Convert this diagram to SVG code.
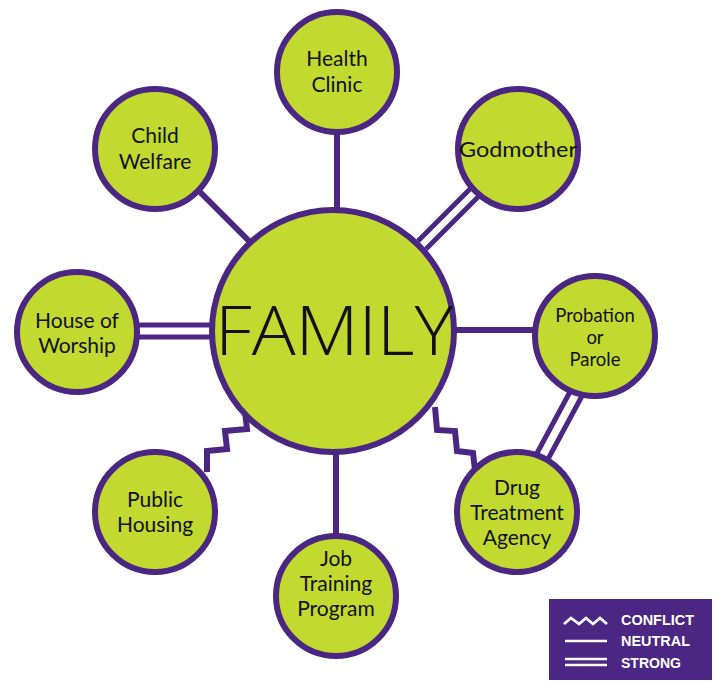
<svg xmlns="http://www.w3.org/2000/svg" width="715" height="681" viewBox="0 0 715 681">
<style>
.node circle{fill:#c2d92f;stroke:#4b2683;stroke-width:6}
.lbl{font-family:Lato,"Open Sans","Liberation Sans",sans-serif;font-size:21px;fill:#111;text-anchor:middle}
.sm{font-size:18.5px}
.big{font-family:"Open Sans","Liberation Sans",sans-serif;font-weight:300;font-size:68px;fill:#111;text-anchor:middle}
.ln{stroke:#4b2683;stroke-width:6;fill:none}
.ln2{stroke:#4b2683;stroke-width:5;fill:none}
.lg{font-family:"Liberation Sans","DejaVu Sans",sans-serif;font-weight:bold;font-size:14px;fill:#fff}
.lgl{stroke:#fff;stroke-width:2.7;fill:none}
</style>
<rect width="715" height="681" fill="#fff"/>
<g id="connectors">
<line class="ln" x1="337" y1="130" x2="337" y2="212"/>
<line class="ln" x1="198" y1="190" x2="250" y2="242"/>
<line class="ln2" x1="418" y1="241" x2="471" y2="188"/>
<line class="ln2" x1="426" y1="249" x2="479" y2="196"/>
<line class="ln2" x1="136" y1="325" x2="214" y2="325"/>
<line class="ln2" x1="136" y1="337" x2="214" y2="337"/>
<line class="ln" x1="452" y1="330" x2="537" y2="330"/>
<line class="ln2" x1="571" y1="390" x2="536" y2="455"/>
<line class="ln2" x1="582" y1="396" x2="547" y2="461"/>
<polyline class="ln" points="245,412 247,429 225,431 227,449 207,451 207,472"/>
<polyline class="ln" points="435,407 437,430 455,431 457,451 473,453 475,470"/>
<line class="ln" x1="336" y1="450" x2="336" y2="537"/>
</g>
<g id="family" class="node"><circle cx="333" cy="331" r="121"/><text class="big" x="334" y="355" textLength="238" lengthAdjust="spacingAndGlyphs">FAMILY</text></g>
<g id="health" class="node"><circle cx="337" cy="72" r="60"/><text class="lbl" x="337" y="66">Health</text><text class="lbl" x="337" y="92">Clinic</text></g>
<g id="godmother" class="node"><circle cx="518" cy="149" r="60"/><text class="lbl" x="518" y="157" textLength="118" lengthAdjust="spacingAndGlyphs">Godmother</text></g>
<g id="child" class="node"><circle cx="155" cy="149" r="60"/><text class="lbl" x="155" y="143">Child</text><text class="lbl" x="155" y="169">Welfare</text></g>
<g id="worship" class="node"><circle cx="77" cy="332" r="60"/><text class="lbl" x="77" y="328">House of</text><text class="lbl" x="77" y="353">Worship</text></g>
<g id="probation" class="node"><circle cx="595" cy="336" r="60"/><text class="lbl sm" x="595" y="322">Probation</text><text class="lbl sm" x="595" y="344">or</text><text class="lbl sm" x="595" y="366">Parole</text></g>
<g id="housing" class="node"><circle cx="155" cy="512" r="60"/><text class="lbl" x="155" y="507">Public</text><text class="lbl" x="155" y="532">Housing</text></g>
<g id="job" class="node"><circle cx="336" cy="596" r="60"/><text class="lbl" x="336" y="566">Job</text><text class="lbl" x="336" y="591">Training</text><text class="lbl" x="336" y="616">Program</text></g>
<g id="drug" class="node"><circle cx="517" cy="512" r="60"/><text class="lbl" x="517" y="495">Drug</text><text class="lbl" x="517" y="520">Treatment</text><text class="lbl" x="517" y="545">Agency</text></g>
<g id="legend">
<rect x="549" y="599" width="163" height="81" fill="#4b2683"/>
<polyline class="lgl" points="564,624 571,618 579,624 586,618 593,624 600,618 607,624"/>
<line class="lgl" x1="565" y1="641" x2="607" y2="641"/>
<line class="lgl" x1="565" y1="659" x2="607" y2="659"/>
<line class="lgl" x1="565" y1="665" x2="607" y2="665"/>
<text class="lg" x="621" y="625" textLength="73" lengthAdjust="spacingAndGlyphs">CONFLICT</text>
<text class="lg" x="621" y="646" textLength="69" lengthAdjust="spacingAndGlyphs">NEUTRAL</text>
<text class="lg" x="621" y="668" textLength="60" lengthAdjust="spacingAndGlyphs">STRONG</text>
</g>
</svg>
